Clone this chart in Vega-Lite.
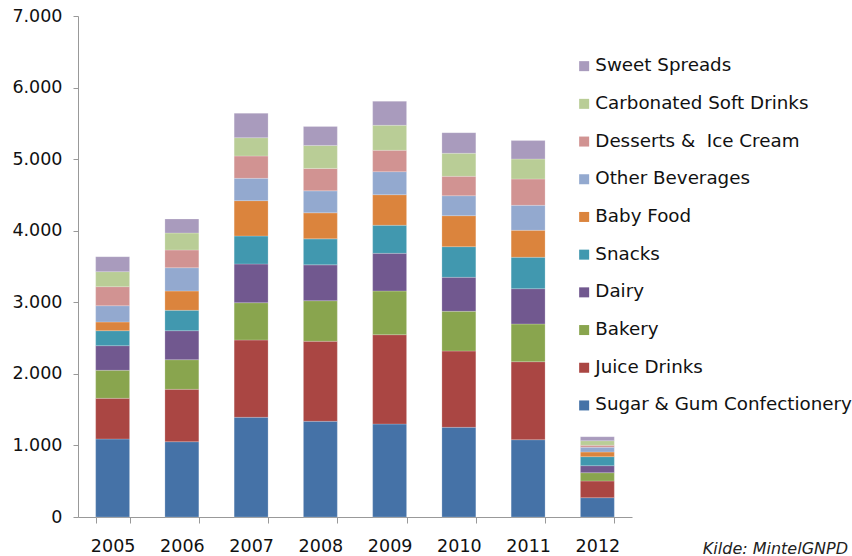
{
  "$schema": "https://vega.github.io/schema/vega-lite/v6.json",
  "width": 554,
  "height": 501,
  "autosize": "none",
  "padding": {"left": 78, "top": 16, "right": 220, "bottom": 39},
  "background": "white",
  "config": {
    "font": "DejaVu Sans",
    "view": {"stroke": null}
  },
  "title": {
    "text": "Kilde: MintelGNPD",
    "orient": "bottom",
    "anchor": "end",
    "frame": "group",
    "font": "DejaVu Sans",
    "fontStyle": "italic",
    "fontWeight": "normal",
    "fontSize": 16,
    "color": "#222222",
    "dx": 216,
    "offset": -14
  },
  "datasets": {
    "sales": [
      {"year": "2005", "category": "Sugar & Gum Confectionery", "rank": 1, "value": 1090},
      {"year": "2005", "category": "Juice Drinks", "rank": 2, "value": 568},
      {"year": "2005", "category": "Bakery", "rank": 3, "value": 392},
      {"year": "2005", "category": "Dairy", "rank": 4, "value": 344},
      {"year": "2005", "category": "Snacks", "rank": 5, "value": 209},
      {"year": "2005", "category": "Baby Food", "rank": 6, "value": 122},
      {"year": "2005", "category": "Other Beverages", "rank": 7, "value": 227},
      {"year": "2005", "category": "Desserts & \u00a0Ice Cream", "rank": 8, "value": 266},
      {"year": "2005", "category": "Carbonated Soft Drinks", "rank": 9, "value": 210},
      {"year": "2005", "category": "Sweet Spreads", "rank": 10, "value": 209},
      {"year": "2006", "category": "Sugar & Gum Confectionery", "rank": 1, "value": 1052},
      {"year": "2006", "category": "Juice Drinks", "rank": 2, "value": 732},
      {"year": "2006", "category": "Bakery", "rank": 3, "value": 414},
      {"year": "2006", "category": "Dairy", "rank": 4, "value": 405},
      {"year": "2006", "category": "Snacks", "rank": 5, "value": 285},
      {"year": "2006", "category": "Baby Food", "rank": 6, "value": 270},
      {"year": "2006", "category": "Other Beverages", "rank": 7, "value": 325},
      {"year": "2006", "category": "Desserts & \u00a0Ice Cream", "rank": 8, "value": 248},
      {"year": "2006", "category": "Carbonated Soft Drinks", "rank": 9, "value": 237},
      {"year": "2006", "category": "Sweet Spreads", "rank": 10, "value": 196},
      {"year": "2007", "category": "Sugar & Gum Confectionery", "rank": 1, "value": 1393},
      {"year": "2007", "category": "Juice Drinks", "rank": 2, "value": 1080},
      {"year": "2007", "category": "Bakery", "rank": 3, "value": 521},
      {"year": "2007", "category": "Dairy", "rank": 4, "value": 541},
      {"year": "2007", "category": "Snacks", "rank": 5, "value": 391},
      {"year": "2007", "category": "Baby Food", "rank": 6, "value": 494},
      {"year": "2007", "category": "Other Beverages", "rank": 7, "value": 312},
      {"year": "2007", "category": "Desserts & \u00a0Ice Cream", "rank": 8, "value": 312},
      {"year": "2007", "category": "Carbonated Soft Drinks", "rank": 9, "value": 256},
      {"year": "2007", "category": "Sweet Spreads", "rank": 10, "value": 341},
      {"year": "2008", "category": "Sugar & Gum Confectionery", "rank": 1, "value": 1337},
      {"year": "2008", "category": "Juice Drinks", "rank": 2, "value": 1118},
      {"year": "2008", "category": "Bakery", "rank": 3, "value": 567},
      {"year": "2008", "category": "Dairy", "rank": 4, "value": 501},
      {"year": "2008", "category": "Snacks", "rank": 5, "value": 363},
      {"year": "2008", "category": "Baby Food", "rank": 6, "value": 364},
      {"year": "2008", "category": "Other Beverages", "rank": 7, "value": 307},
      {"year": "2008", "category": "Desserts & \u00a0Ice Cream", "rank": 8, "value": 314},
      {"year": "2008", "category": "Carbonated Soft Drinks", "rank": 9, "value": 321},
      {"year": "2008", "category": "Sweet Spreads", "rank": 10, "value": 265},
      {"year": "2009", "category": "Sugar & Gum Confectionery", "rank": 1, "value": 1299},
      {"year": "2009", "category": "Juice Drinks", "rank": 2, "value": 1248},
      {"year": "2009", "category": "Bakery", "rank": 3, "value": 611},
      {"year": "2009", "category": "Dairy", "rank": 4, "value": 526},
      {"year": "2009", "category": "Snacks", "rank": 5, "value": 392},
      {"year": "2009", "category": "Baby Food", "rank": 6, "value": 427},
      {"year": "2009", "category": "Other Beverages", "rank": 7, "value": 322},
      {"year": "2009", "category": "Desserts & \u00a0Ice Cream", "rank": 8, "value": 299},
      {"year": "2009", "category": "Carbonated Soft Drinks", "rank": 9, "value": 349},
      {"year": "2009", "category": "Sweet Spreads", "rank": 10, "value": 336},
      {"year": "2010", "category": "Sugar & Gum Confectionery", "rank": 1, "value": 1253},
      {"year": "2010", "category": "Juice Drinks", "rank": 2, "value": 1066},
      {"year": "2010", "category": "Bakery", "rank": 3, "value": 555},
      {"year": "2010", "category": "Dairy", "rank": 4, "value": 475},
      {"year": "2010", "category": "Snacks", "rank": 5, "value": 428},
      {"year": "2010", "category": "Baby Food", "rank": 6, "value": 433},
      {"year": "2010", "category": "Other Beverages", "rank": 7, "value": 279},
      {"year": "2010", "category": "Desserts & \u00a0Ice Cream", "rank": 8, "value": 271},
      {"year": "2010", "category": "Carbonated Soft Drinks", "rank": 9, "value": 322},
      {"year": "2010", "category": "Sweet Spreads", "rank": 10, "value": 288},
      {"year": "2011", "category": "Sugar & Gum Confectionery", "rank": 1, "value": 1080},
      {"year": "2011", "category": "Juice Drinks", "rank": 2, "value": 1090},
      {"year": "2011", "category": "Bakery", "rank": 3, "value": 527},
      {"year": "2011", "category": "Dairy", "rank": 4, "value": 493},
      {"year": "2011", "category": "Snacks", "rank": 5, "value": 439},
      {"year": "2011", "category": "Baby Food", "rank": 6, "value": 377},
      {"year": "2011", "category": "Other Beverages", "rank": 7, "value": 349},
      {"year": "2011", "category": "Desserts & \u00a0Ice Cream", "rank": 8, "value": 368},
      {"year": "2011", "category": "Carbonated Soft Drinks", "rank": 9, "value": 279},
      {"year": "2011", "category": "Sweet Spreads", "rank": 10, "value": 257},
      {"year": "2012", "category": "Sugar & Gum Confectionery", "rank": 1, "value": 270},
      {"year": "2012", "category": "Juice Drinks", "rank": 2, "value": 233},
      {"year": "2012", "category": "Bakery", "rank": 3, "value": 116},
      {"year": "2012", "category": "Dairy", "rank": 4, "value": 98},
      {"year": "2012", "category": "Snacks", "rank": 5, "value": 126},
      {"year": "2012", "category": "Baby Food", "rank": 6, "value": 65},
      {"year": "2012", "category": "Other Beverages", "rank": 7, "value": 66},
      {"year": "2012", "category": "Desserts & \u00a0Ice Cream", "rank": 8, "value": 28},
      {"year": "2012", "category": "Carbonated Soft Drinks", "rank": 9, "value": 64},
      {"year": "2012", "category": "Sweet Spreads", "rank": 10, "value": 56}
    ]
  },
  "data": {"name": "sales"},
  "mark": {"type": "bar", "stroke": "#ffffff", "strokeOpacity": 0.35, "strokeWidth": 0.6},
  "encoding": {
    "x": {
      "field": "year",
      "type": "ordinal",
      "scale": {"paddingInner": 0.51, "paddingOuter": 0.255},
      "axis": {
        "title": null,
        "labelAngle": 0,
        "labelFontSize": 17.5,
        "labelColor": "#111111",
        "labelPadding": 14,
        "tickBand": "extent",
        "tickSize": 6,
        "tickColor": "#999999",
        "domainColor": "#999999"
      }
    },
    "y": {
      "field": "value",
      "type": "quantitative",
      "stack": "zero",
      "scale": {"domain": [0, 7000], "nice": false},
      "axis": {
        "title": null,
        "values": [0, 1000, 2000, 3000, 4000, 5000, 6000, 7000],
        "labelExpr": "replace(format(datum.value, ','), ',', '.')",
        "grid": false,
        "labelFontSize": 17.5,
        "labelColor": "#111111",
        "labelPadding": 11,
        "tickSize": 5,
        "tickColor": "#999999",
        "domainColor": "#999999"
      }
    },
    "color": {
      "field": "category",
      "type": "nominal",
      "scale": {
        "domain": ["Sweet Spreads", "Carbonated Soft Drinks", "Desserts & \u00a0Ice Cream", "Other Beverages", "Baby Food", "Snacks", "Dairy", "Bakery", "Juice Drinks", "Sugar & Gum Confectionery"],
        "range": ["#A99BBD", "#B9CD96", "#D19392", "#93A9CF", "#DB843D", "#4198AF", "#71588F", "#89A54E", "#AA4643", "#4572A7"]
      },
      "legend": {
        "title": null,
        "orient": "none",
        "legendX": 497,
        "legendY": 41,
        "symbolType": "square",
        "symbolSize": 100,
        "symbolStrokeWidth": 0,
        "labelFontSize": 18.3,
        "labelColor": "#111111",
        "labelOffset": 2,
        "rowPadding": 18.7,
        "labelLimit": 400
      }
    },
    "order": {"field": "rank", "type": "quantitative", "sort": "ascending"}
  }
}
